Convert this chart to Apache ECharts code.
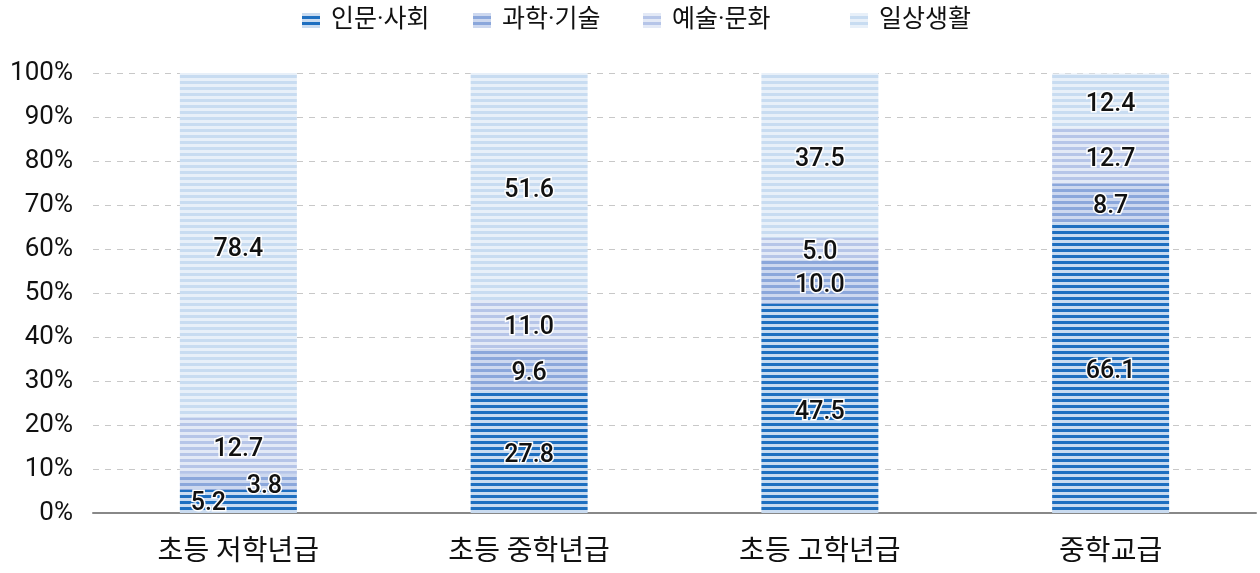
<!DOCTYPE html>
<html><head><meta charset="utf-8">
<script src="https://cdn.jsdelivr.net/npm/echarts@6/dist/echarts.min.js"></script>
<style>html,body{margin:0;padding:0;background:#fff}#c{width:1260px;height:573px}</style>
</head><body><div id="c"></div>
<script>
const categories = ['초등 저학년급', '초등 중학년급', '초등 고학년급', '중학교급'];
const seriesNames = ['인문·사회', '과학·기술', '예술·문화', '일상생활'];
const humanSocial = [5.2, 27.8, 47.5, 66.1];
const scienceTech = [3.8, 9.6, 10.0, 8.7];
const artsCulture = [12.7, 11.0, 5.0, 12.7];
const dailyLife = [78.4, 51.6, 37.5, 12.4];
const yTicks = [0, 10, 20, 30, 40, 50, 60, 70, 80, 90, 100];

function stripe(dark, light) {
  const c = document.createElement('canvas');
  c.width = 4; c.height = 6;
  const g = c.getContext('2d');
  g.fillStyle = light; g.fillRect(0, 0, 4, 6);
  g.fillStyle = dark; g.fillRect(0, 3, 4, 3);
  return { image: c, repeat: 'repeat' };
}
const patterns = [
  stripe('#1e6fc0', '#c9dbf0'),
  stripe('#8ba7db', '#cdd8ef'),
  stripe('#b6c5e8', '#e3e9f6'),
  stripe('#c8dcf1', '#e8f0f9')
];
const dataSets = [humanSocial, scienceTech, artsCulture, dailyLife];
const FONT = 'Roboto, "Noto Sans CJK KR", sans-serif';

const chart = echarts.init(document.getElementById('c'), null, { renderer: 'canvas' });
const labelBase = {
  show: true, position: 'inside', color: '#111', fontSize: 25, fontWeight: 500,
  fontFamily: FONT, offset: [0, 4],
  textBorderColor: '#fff', textBorderWidth: 3,
  formatter: p => p.value.toFixed(1)
};
const series = seriesNames.map((name, si) => ({
  name, type: 'bar', stack: 'total', barWidth: 117,
  itemStyle: { color: patterns[si] },
  label: Object.assign({}, labelBase),
  data: dataSets[si].map((v, ci) => {
    const d = { value: v };
    if (si === 0 && ci === 0) d.label = { offset: [-30, 2] };
    if (si === 1 && ci === 0) d.label = { offset: [26, 5] };
    return d;
  })
}));

const legendLefts = [297, 468, 638, 845];
const legends = seriesNames.map((n, i) => ({
  top: 3, left: legendLefts[i], itemWidth: 18, itemHeight: 15,
  icon: 'rect',
  textStyle: { fontSize: 25, color: '#111', fontFamily: FONT, padding: [0, 0, 0, 6] },
  data: [n]
}));

chart.setOption({
  animation: false,
  textStyle: { fontFamily: FONT },
  legend: legends,
  grid: { left: 93, right: 4, top: 73, bottom: 60 },
  xAxis: {
    type: 'category', data: categories,
    axisLine: { lineStyle: { color: '#888', width: 2 } },
    axisTick: { show: false },
    axisLabel: { fontSize: 28, color: '#111', margin: 26 }
  },
  yAxis: {
    type: 'value', min: 0, max: 100, interval: 10,
    axisLabel: { fontSize: 26, color: '#111', margin: 20, formatter: v => yTicks.includes(v) ? v + '%' : '' },
    splitLine: { lineStyle: { color: '#c8c8c8', type: [6, 6], width: 1 } },
    axisLine: { show: false }, axisTick: { show: false }
  },
  series
});
</script></body></html>
